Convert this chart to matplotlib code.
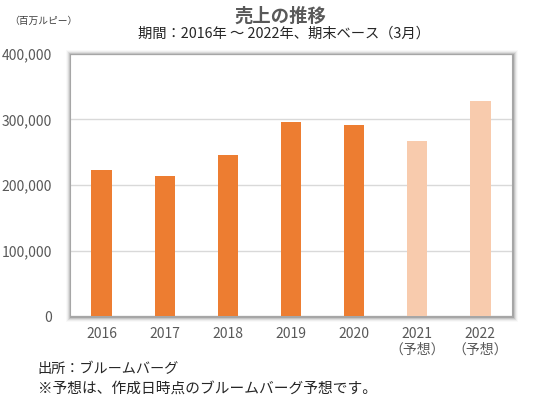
import matplotlib
matplotlib.use("Agg")
import matplotlib.pyplot as plt
from matplotlib.patches import Rectangle

plt.rcParams['font.family'] = ['Noto Sans CJK JP', 'DejaVu Sans']

years = ["2016", "2017", "2018", "2019", "2020", "2021\n（予想）", "2022\n（予想）"]
sales = [222500, 214500, 246500, 295500, 291000, 266500, 328000]
forecast = [False, False, False, False, False, True, True]
yticks = [0, 100000, 200000, 300000, 400000]

actual_color = "#ED7D31"
forecast_color = "#F8CBAD"

W, H = 552, 399
fig = plt.figure(figsize=(W / 100, H / 100), dpi=100)
fig.patch.set_facecolor("white")

l, r, t, b = 70, 512, 54, 316
ax = fig.add_axes([l / W, 1 - b / H, (r - l) / W, (b - t) / H])
ax.set_facecolor("white")
ax.set_zorder(2)

# soft shadow around plot area
for i, a in enumerate([0.16, 0.10, 0.07, 0.045, 0.025]):
    d = i + 1
    fig.patches.append(Rectangle(((l - d + 1) / W, 1 - (b + d + 1) / H),
                                 (r - l + 2 * d) / W, (b - t + 2 * d) / H,
                                 transform=fig.transFigure, facecolor="black",
                                 alpha=a, edgecolor="none", zorder=1))

colors = [forecast_color if f else actual_color for f in forecast]
x = range(len(years))
ax.bar(x, sales, width=0.32, color=colors, zorder=3)
ax.set_xlim(-0.5, len(years) - 0.5)
ax.set_ylim(0, 400000)
ax.set_yticks(yticks)
ax.set_yticklabels([f"{v:,}" for v in yticks], fontsize=10, color="#595959")
ax.set_xticks(list(x))
ax.set_xticklabels(years, fontsize=10, color="#595959", linespacing=1.1)
ax.tick_params(axis="both", length=0)
ax.tick_params(axis="y", pad=13)
ax.tick_params(axis="x", pad=8)
ax.grid(axis="y", color="#D9D9D9", linewidth=1, zorder=0)
ax.set_axisbelow(True)
for s in ax.spines.values():
    s.set_color("#A6A6A6")
    s.set_linewidth(0.8)

fig.text(280 / W, 1 - 16 / H, "売上の推移", ha="center", va="center",
         fontsize=13.2, fontweight="bold", color="#595959")
fig.text(283.5 / W, 1 - 34 / H, "期間：2016年 ～ 2022年、期末ベース（3月）", ha="center",
         va="center", fontsize=10.3, color="#262626")
fig.text(43 / W, 1 - 21 / H, "（百万ルピー）", ha="center", va="center",
         fontsize=7, color="#404040")
fig.text(37 / W, 1 - 369 / H, "出所：ブルームバーグ", ha="left", va="center",
         fontsize=10.2, color="#262626")
fig.text(38 / W, 1 - 389 / H, "※予想は、作成日時点のブルームバーグ予想です。", ha="left",
         va="center", fontsize=10.6, color="#262626")

fig.savefig("out.png", dpi=100)
